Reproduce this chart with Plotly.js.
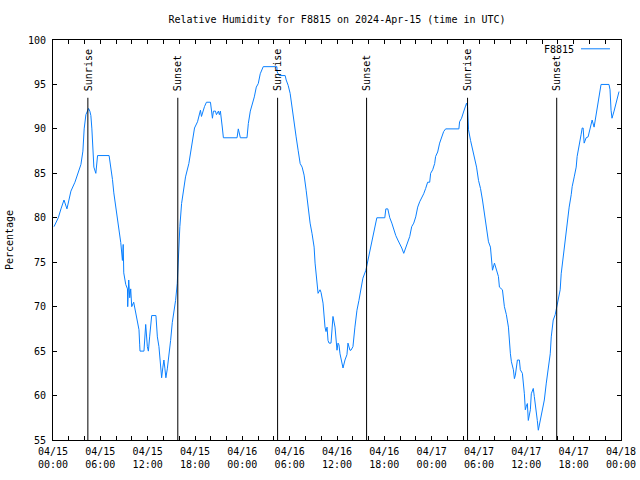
<!DOCTYPE html>
<html>
<head>
<meta charset="utf-8">
<script src="https://cdn.plot.ly/plotly-3.0.1.min.js"></script>
<style>html,body{margin:0;padding:0;background:#fff}#chart{width:640px;height:480px}</style>
</head>
<body>
<div id="chart"></div>
<script>
// Station and period
const stationName = "F8815";
const startDate = "2024-04-15";
// Hours since 2024-04-15 00:00 UTC
const hours = [0.13,0.67,1.01,1.39,1.77,2.02,2.27,2.78,3.16,3.54,3.79,3.95,4.17,4.51,4.67,4.80,4.93,5.05,5.18,5.43,5.65,7.11,7.33,7.54,7.71,7.83,8.21,8.43,8.59,8.80,8.90,8.97,9.22,9.44,9.47,9.60,9.73,9.85,9.98,10.23,10.48,10.74,10.90,10.99,11.03,11.53,11.75,11.96,12.09,12.25,12.38,12.51,13.05,13.23,13.43,13.55,13.64,13.77,13.93,14.06,14.19,14.31,14.49,14.69,14.91,15.12,15.32,15.54,15.75,15.88,15.95,16.08,16.30,16.59,16.80,17.22,17.43,17.68,17.94,18.32,18.57,18.69,18.82,18.95,19.20,19.45,19.96,20.21,20.34,20.59,20.72,20.97,21.09,21.22,21.35,21.47,21.60,23.33,23.49,23.75,24.59,24.76,25.01,25.26,25.52,25.77,26.02,26.27,26.65,28.38,28.42,28.67,29.43,29.56,29.81,30.06,30.32,30.57,30.82,31.07,31.33,31.58,31.83,32.09,32.34,32.59,32.84,33.10,33.22,33.35,33.47,33.60,33.85,33.98,34.23,34.36,34.48,34.61,34.74,34.86,34.99,35.24,35.37,35.49,35.75,35.87,36.00,36.13,36.25,36.38,36.63,36.76,37.01,37.26,37.39,37.64,37.77,38.02,38.27,38.53,38.78,39.03,39.28,39.66,39.92,40.04,40.30,40.55,40.80,41.05,42.06,42.19,42.44,42.69,42.95,43.20,43.45,43.71,43.96,44.21,44.46,44.72,44.97,45.22,45.47,45.73,45.98,46.23,46.48,46.74,46.99,47.24,47.49,47.75,47.87,48.13,48.38,48.50,48.76,49.01,49.26,49.52,49.77,51.45,51.54,51.79,52.04,52.29,52.42,52.55,52.67,52.93,53.18,53.43,53.69,53.94,54.19,54.44,54.70,54.95,55.20,55.45,55.58,55.71,55.96,56.21,56.46,56.59,56.97,57.22,57.47,57.73,57.85,57.98,58.11,58.36,58.49,58.61,58.87,59.12,59.24,59.50,59.75,59.87,60.00,60.13,60.25,60.38,60.51,60.63,60.88,61.01,61.27,61.39,61.52,61.77,62.02,62.28,62.53,62.78,63.03,63.16,63.41,63.66,63.91,64.29,64.42,64.67,64.93,65.18,65.43,65.69,65.81,66.07,66.32,66.44,66.70,66.95,67.08,67.20,67.33,67.58,67.83,68.08,68.21,68.34,68.59,68.84,68.97,69.22,69.47,70.48,70.61,70.74,70.86,71.12,71.37,71.62,71.75];
// Relative humidity (%)
const humidity = [79,80,81,82,81,82,83,84,85,86,87.5,90,91.6,92.3,92,91.5,90,88,85.7,85,87,87,85.7,84.3,82.8,82,80,78.4,77.2,75.2,77,73.8,72.5,72,70,73,71,72,70,70.5,69.3,68.5,67.4,65.7,65,65,68,65.5,65,66.6,68,69,69,66.6,65.5,64.4,63.2,62,63.2,64,63,62,63,64.4,66.2,68.2,69.3,70.7,72.6,75.2,77.2,79,81.6,83.5,84.6,86.1,87.2,88.4,90.1,90.8,91.6,92.1,91.4,91.9,92.5,93,93,91.2,92,92,91.6,92,91.6,92,91.2,90.1,89,89,90,89,89,90.6,92,92.7,93.6,94.7,95.1,96.2,97,97,96.4,96,96,95.5,94.9,94,92.5,91,89.1,87.6,86.1,85.7,84.8,83.1,80.9,79.4,78.2,76.7,74.9,73.4,72.2,71.5,71.9,71.6,70.4,68.9,67.7,67.2,67.7,66.2,65.9,65.9,67.4,68.9,67.7,66.2,65.1,65.9,65.7,64.7,63.6,63.1,64,64.6,65.9,65.1,65.1,65.5,67.7,69.6,70.7,72.2,73.2,74.1,75.2,75.6,76.7,77.9,79,80,80,81,81,80,79.4,78.6,78,77.5,77.1,76.6,76,76.6,77.1,77.9,79,79.4,80.1,81.2,81.8,82.2,82.7,83.3,84,84,85,85.4,86.1,86.9,87.4,88.4,89.1,89.7,90,90,90.8,91.2,91.9,92.7,92.9,92.5,89.9,88.7,87.8,86.9,85.7,84.2,83.3,82,80.5,79,77.3,76.7,74.9,74.1,74.9,74.1,73.4,72.2,71.9,70,69.1,67.7,65.7,64.7,63.8,62.9,61.9,62.3,64,64,62.9,62.5,60.2,58.4,58.8,59.1,57.2,57.8,58.4,60.2,60.8,59.9,58.4,57.2,56.1,57.2,58.4,59.5,61.4,62.9,64.7,66.6,68.5,69.1,70.4,71.9,73.7,75.6,77.5,79.6,81.2,82.6,83.5,84.6,85.7,86.9,88,89.4,90.1,90.1,88.4,89,89.1,89.9,90.4,91,90.2,91.6,92.7,94,95,95,94.4,92.1,91.2,92,92.9,93.8,94.2];
// Sun events (hours since start) and labels
const eventHours = [4.42,15.82,28.47,39.75,52.55,63.85];
const eventLabels = ["Sunrise","Sunset","Sunrise","Sunset","Sunrise","Sunset"];
const eventLineTop = 93.5;
const eventLabelBase = 94;
// Axes
const xStart = "2024-04-15 00:00:00", xEnd = "2024-04-18 00:00:00";
const yMin = 55, yMax = 100;

const base = Date.UTC(2024,3,15,0,0,0);
function toStr(h){
  const d = new Date(base + Math.round(h*3600000));
  const p = n => String(n).padStart(2,"0");
  return d.getUTCFullYear()+"-"+p(d.getUTCMonth()+1)+"-"+p(d.getUTCDate())+" "+p(d.getUTCHours())+":"+p(d.getUTCMinutes())+":"+p(d.getUTCSeconds());
}
const xs = hours.map(toStr);
const evX = eventHours.map(toStr);

const font = {family:"DejaVu Sans Mono, Liberation Mono, monospace", size:10, color:"#000"};
const lineColor = "#0a80ff";

const shapes = evX.map(x => ({type:"line", xref:"x", yref:"y", x0:x, x1:x, y0:yMin, y1:eventLineTop, line:{color:"#000", width:1}}));
shapes.push({type:"line", xref:"paper", yref:"paper", x0:0.9296, x1:0.9806, y0:0.978, y1:0.978, line:{color:lineColor, width:1}});

const annotations = evX.map((x,i) => ({x:x, y:eventLabelBase, xref:"x", yref:"y", text:eventLabels[i], textangle:-90, showarrow:false, xanchor:"center", yanchor:"bottom", font:font}));
annotations.push({x:0.9215, y:0.976, xref:"paper", yref:"paper", text:stationName, showarrow:false, xanchor:"right", yanchor:"middle", font:font});

const trace = {x:xs, y:humidity, type:"scatter", mode:"lines", name:stationName, line:{color:lineColor, width:1}, hoverinfo:"skip"};

const axCommon = {showline:true, linecolor:"#000", linewidth:1, mirror:"allticks", ticks:"inside", ticklen:4, tickcolor:"#000", tickwidth:1, showgrid:false, zeroline:false, tickfont:font};

const layout = {
  width:640, height:480,
  margin:{l:53, r:19, t:40, b:40, pad:0},
  paper_bgcolor:"#fff", plot_bgcolor:"#fff",
  font:font,
  showlegend:false,
  title:{text:"Relative Humidity for "+stationName+" on 2024-Apr-15 (time in UTC)", font:font, x:0.5, xref:"paper", y:0.96, yref:"container", yanchor:"middle"},
  xaxis:Object.assign({}, axCommon, {type:"date", range:[xStart, xEnd], tick0:startDate, dtick:6*3600000, tickformat:"%m/%d<br>%H:%M", ticklabelstandoff:2, minor:{dtick:2*3600000, ticks:"inside", ticklen:4, tickcolor:"#000"}}),
  yaxis:Object.assign({}, axCommon, {range:[yMin, yMax], dtick:5, tick0:55, ticklabelstandoff:4, title:{text:"Percentage", font:font, standoff:12}}),
  shapes:shapes,
  annotations:annotations
};

Plotly.newPlot("chart", [trace], layout, {staticPlot:true, displayModeBar:false});
</script>
</body>
</html>
